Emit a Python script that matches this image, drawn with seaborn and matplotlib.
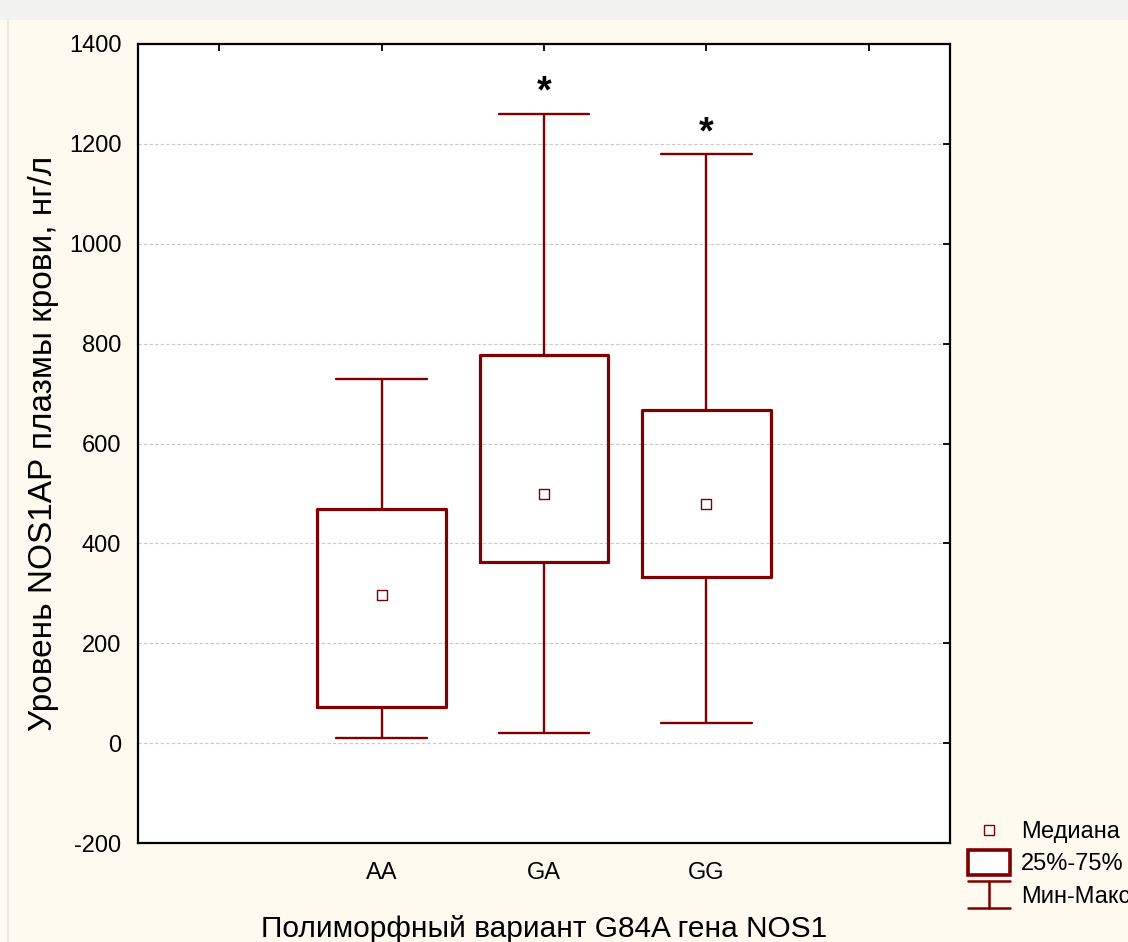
import matplotlib
matplotlib.use("Agg")
import matplotlib.pyplot as plt
import seaborn as sns
import pandas as pd
from matplotlib.patches import Rectangle
from matplotlib.lines import Line2D
from matplotlib.legend_handler import HandlerBase

categories = ["AA", "GA", "GG"]
mins = [10, 20, 40]
q1 = [72, 362, 332]
medians = [296, 498, 478]
q3 = [468, 778, 668]
maxs = [730, 1260, 1180]
stars = ["", "*", "*"]
star_y = [0, 1302, 1220]
yticks = [-200, 0, 200, 400, 600, 800, 1000, 1200, 1400]
legend_labels = ["Медиана", "25%-75%", "Мин-Макс"]

# five-point samples whose quartiles equal the read statistics
rows = []
for c, a, b, m, d, e in zip(categories, mins, q1, medians, q3, maxs):
    for v in (a, b, m, d, e):
        rows.append({"g": c, "v": v})
df = pd.DataFrame(rows)
med_df = pd.DataFrame({"g": categories, "v": medians})

sns.set_style("white")
plt.rcParams['font.family'] = ['Liberation Sans', 'DejaVu Sans']
plt.rcParams['text.color'] = 'black'
plt.rcParams['xtick.color'] = 'black'
plt.rcParams['ytick.color'] = 'black'
plt.rcParams['axes.labelcolor'] = 'black'

red = "#7f0000"
fig = plt.figure(figsize=(11.28, 9.42), dpi=100)
fig.patch.set_facecolor("#fefaef")
fig.patches.append(Rectangle((0, 1 - 20/942), 1, 20/942, transform=fig.transFigure,
                             facecolor="#f2f2ee", edgecolor="none", zorder=0))
fig.lines.append(Line2D([8/1128, 8/1128], [0, 1 - 20/942], transform=fig.transFigure,
                        color="#e8e8e2", lw=1.5))

ax = fig.add_axes([138/1128, 1 - 843/942, 812/1128, 799/942])
ax.set_facecolor("white")

sns.boxplot(data=df, x="g", y="v", order=categories, whis=(0, 100), width=0.79,
            fill=False, color=red, linewidth=2.0, ax=ax, capwidths=0.56,
            boxprops=dict(linewidth=2.3), whiskerprops=dict(linewidth=1.7),
            capprops=dict(linewidth=1.7), medianprops=dict(visible=False),
            showfliers=False)
sns.scatterplot(data=med_df, x="g", y="v", marker="s", s=55, facecolor="white",
                edgecolor=red, linewidth=1.0, ax=ax, zorder=5)

for i, (s, y) in enumerate(zip(stars, star_y)):
    if s:
        ax.text(i, y, s, ha="center", va="center", fontsize=27, fontweight="bold",
                color="black")

ax.set_xlim(-1.5, 3.5)
ax.set_ylim(-200, 1400)
ax.set_xticks([-1, 0, 1, 2, 3])
ax.set_xticklabels(["", "AA", "GA", "GG", ""], fontsize=17)
ax.set_yticks(yticks)
ax.set_yticklabels([str(t) for t in yticks], fontsize=17)
ax.yaxis.grid(True, linestyle=(0, (3, 2)), color="#c8c8c8", linewidth=0.8)
ax.xaxis.grid(False)
ax.tick_params(direction="in", top=True, right=True, length=5, width=1.3)
ax.tick_params(axis="y", pad=12)
ax.tick_params(axis="x", pad=14)
for sp in ax.spines.values():
    sp.set_visible(True)
    sp.set_color("black")
    sp.set_linewidth(1.6)

ax.set_xlabel("Полиморфный вариант G84A гена NOS1", fontsize=21.5, labelpad=22)
ax.set_ylabel("Уровень NOS1AP плазмы крови, нг/л", fontsize=24, labelpad=7)


class MinMaxHandler(HandlerBase):
    def create_artists(self, legend, orig_handle, xdescent, ydescent, width, height,
                       fontsize, trans):
        x0, x1 = -xdescent, -xdescent + width
        xm = (x0 + x1) / 2
        yb = -ydescent - 0.3 * height
        yt = -ydescent + 1.3 * height
        kw = dict(color=red, lw=1.8, transform=trans)
        return [Line2D([x0, x1], [yt, yt], **kw), Line2D([x0, x1], [yb, yb], **kw),
                Line2D([xm, xm], [yb, yt], **kw)]


class BoxHandler(HandlerBase):
    def create_artists(self, legend, orig_handle, xdescent, ydescent, width, height,
                       fontsize, trans):
        r = Rectangle((-xdescent, -ydescent - 0.25 * height), width, 1.5 * height,
                      facecolor="white", edgecolor=red, linewidth=2.6, transform=trans)
        return [r]


box_handle = Rectangle((0, 0), 1, 1)
mm_handle = Line2D([], [])
handles = [
    Line2D([], [], marker="s", linestyle="none", markersize=7.5, markerfacecolor="white",
           markeredgecolor=red, markeredgewidth=1.0),
    box_handle,
    mm_handle,
]
leg = fig.legend(handles, legend_labels, loc="upper left",
                 bbox_to_anchor=(968/1128, 1 - 821/942), frameon=False, fontsize=17,
                 handlelength=1.78, handletextpad=0.47, labelspacing=0.44, borderpad=0,
                 borderaxespad=0,
                 handler_map={box_handle: BoxHandler(), mm_handle: MinMaxHandler()})

fig.savefig("out.png", dpi=100, facecolor=fig.get_facecolor())
